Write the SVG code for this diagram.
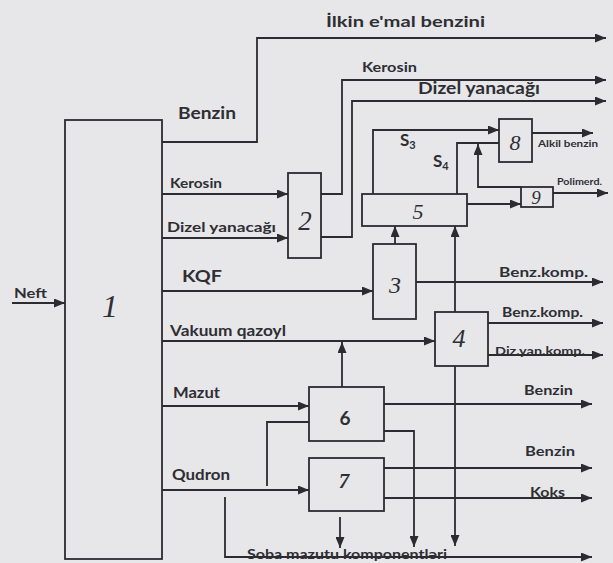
<svg xmlns="http://www.w3.org/2000/svg" width="613" height="563" viewBox="0 0 613 563">
<style>
.bg{fill:#e7e7ea}
.box{fill:none;stroke:#2b2b30;stroke-width:1.8}
.ln{fill:none;stroke:#2b2b30;stroke-width:1.8}
.t{font-family:Lato,"Open Sans","DejaVu Sans",sans-serif;font-weight:bold;fill:#2e2e33}
.n{font-family:"Liberation Serif","DejaVu Serif",serif;font-style:italic;fill:#2e2e33;text-anchor:middle}
</style>
<defs>
<marker id="ah" markerUnits="userSpaceOnUse" markerWidth="11" markerHeight="9" refX="11" refY="4.5" orient="auto">
<path d="M0,0 L11,4.5 L0,9 z" fill="#2b2b30"/>
</marker>
</defs>
<rect class="bg" x="0" y="0" width="613" height="563"/>

<g id="connectors">
<path class="ln" d="M12,303 H65" marker-end="url(#ah)"/>
<path class="ln" d="M162,142 H257 V38 H606" marker-end="url(#ah)"/>
<path class="ln" d="M162,194 H288" marker-end="url(#ah)"/>
<path class="ln" d="M162,238 H288" marker-end="url(#ah)"/>
<path class="ln" d="M162,291 H373" marker-end="url(#ah)"/>
<path class="ln" d="M162,341 H435" marker-end="url(#ah)"/>
<path class="ln" d="M162,406 H309" marker-end="url(#ah)"/>
<path class="ln" d="M162,490 H309" marker-end="url(#ah)"/>
<path class="ln" d="M267,486 V422 H309"/>
<path class="ln" d="M225,497 V557 H592" marker-end="url(#ah)"/>
<path class="ln" d="M321,194 H342 V80 H606" marker-end="url(#ah)"/>
<path class="ln" d="M321,237 H352 V101 H606" marker-end="url(#ah)"/>
<path class="ln" d="M373,194 V130 H499" marker-end="url(#ah)"/>
<path class="ln" d="M457,194 V143 H499"/>
<path class="ln" d="M532,133 H593" marker-end="url(#ah)"/>
<path class="ln" d="M521,187 H478 V144" marker-end="url(#ah)"/>
<path class="ln" d="M467,204 H521" marker-end="url(#ah)"/>
<path class="ln" d="M553,193 H608" marker-end="url(#ah)"/>
<path class="ln" d="M395,244 V226" marker-end="url(#ah)"/>
<path class="ln" d="M455,312 V226" marker-end="url(#ah)"/>
<path class="ln" d="M455,366 V546" marker-end="url(#ah)"/>
<path class="ln" d="M416,282 H603" marker-end="url(#ah)"/>
<path class="ln" d="M488,323 H603" marker-end="url(#ah)"/>
<path class="ln" d="M488,355 H603" marker-end="url(#ah)"/>
<path class="ln" d="M342,387 V342" marker-end="url(#ah)"/>
<path class="ln" d="M384,404 H592" marker-end="url(#ah)"/>
<path class="ln" d="M384,431 H414 V547" marker-end="url(#ah)"/>
<path class="ln" d="M384,468 H592" marker-end="url(#ah)"/>
<path class="ln" d="M384,498 H592" marker-end="url(#ah)"/>
<path class="ln" d="M340,517 V548" marker-end="url(#ah)"/>
</g>

<g id="node1"><rect class="box" x="65" y="120" width="97" height="439"/><text class="n" x="110" y="317" font-size="32">1</text></g>
<g id="node2"><rect class="box" x="288" y="173" width="33" height="85"/><text class="n" x="305" y="230" font-size="27">2</text></g>
<g id="node3"><rect class="box" x="373" y="244" width="43" height="75"/><text class="n" x="395" y="293" font-size="24">3</text></g>
<g id="node4"><rect class="box" x="435" y="312" width="53" height="54"/><text class="n" x="459" y="347" font-size="26">4</text></g>
<g id="node5"><rect class="box" x="362" y="194" width="105" height="32"/><text class="n" x="418" y="219" font-size="22">5</text></g>
<g id="node6"><rect class="box" x="309" y="387" width="75" height="54"/><text class="t" x="345" y="425" font-size="19" text-anchor="middle">6</text></g>
<g id="node7"><rect class="box" x="309" y="458" width="75" height="53"/><text class="n" x="344" y="488" font-size="21" font-weight="bold">7</text></g>
<g id="node8"><rect class="box" x="499" y="119" width="33" height="43"/><text class="n" x="515" y="150" font-size="22">8</text></g>
<g id="node9"><rect class="box" x="521" y="187" width="32" height="20"/><text class="n" x="536" y="204" font-size="19">9</text></g>

<g id="labels">
<text class="t" x="14" y="298" font-size="13" textLength="33" lengthAdjust="spacingAndGlyphs">Neft</text>
<text class="t" x="326" y="27" font-size="15" textLength="159" lengthAdjust="spacingAndGlyphs">İlkin e'mal benzini</text>
<text class="t" x="178" y="119" font-size="17" textLength="58" lengthAdjust="spacingAndGlyphs">Benzin</text>
<text class="t" x="170" y="188" font-size="13" textLength="52" lengthAdjust="spacingAndGlyphs">Kerosin</text>
<text class="t" x="167" y="232" font-size="13" textLength="109" lengthAdjust="spacingAndGlyphs">Dizel yanacağı</text>
<text class="t" x="182" y="282" font-size="17" textLength="40" lengthAdjust="spacingAndGlyphs">KQF</text>
<text class="t" x="170" y="336" font-size="15" textLength="116" lengthAdjust="spacingAndGlyphs">Vakuum qazoyl</text>
<text class="t" x="173" y="398" font-size="15" textLength="47" lengthAdjust="spacingAndGlyphs">Mazut</text>
<text class="t" x="172" y="480" font-size="16" textLength="58" lengthAdjust="spacingAndGlyphs">Qudron</text>
<text class="t" x="362" y="72" font-size="14" textLength="55" lengthAdjust="spacingAndGlyphs">Kerosin</text>
<text class="t" x="418" y="94" font-size="17" textLength="122" lengthAdjust="spacingAndGlyphs">Dizel yanacağı</text>
<text class="t" x="400" y="146" font-size="17">S<tspan font-size="11" dy="3">3</tspan></text>
<text class="t" x="433" y="167" font-size="17">S<tspan font-size="11" dy="3">4</tspan></text>
<text class="t" x="538" y="147" font-size="9.5" textLength="60" lengthAdjust="spacingAndGlyphs">Alkil benzin</text>
<text class="t" x="557" y="185" font-size="9" textLength="45" lengthAdjust="spacingAndGlyphs">Polimerd.</text>
<text class="t" x="499" y="277" font-size="14" textLength="89" lengthAdjust="spacingAndGlyphs">Benz.komp.</text>
<text class="t" x="502" y="317" font-size="13" textLength="81" lengthAdjust="spacingAndGlyphs">Benz.komp.</text>
<text class="t" x="495" y="355" font-size="12" textLength="90" lengthAdjust="spacingAndGlyphs">Diz.yan.komp.</text>
<text class="t" x="524" y="395" font-size="14" textLength="49" lengthAdjust="spacingAndGlyphs">Benzin</text>
<text class="t" x="525" y="456" font-size="14" textLength="50" lengthAdjust="spacingAndGlyphs">Benzin</text>
<text class="t" x="530" y="497" font-size="14" textLength="35" lengthAdjust="spacingAndGlyphs">Koks</text>
<text class="t" x="247" y="559" font-size="14" textLength="200" lengthAdjust="spacingAndGlyphs">Soba mazutu komponentləri</text>
</g>
</svg>
